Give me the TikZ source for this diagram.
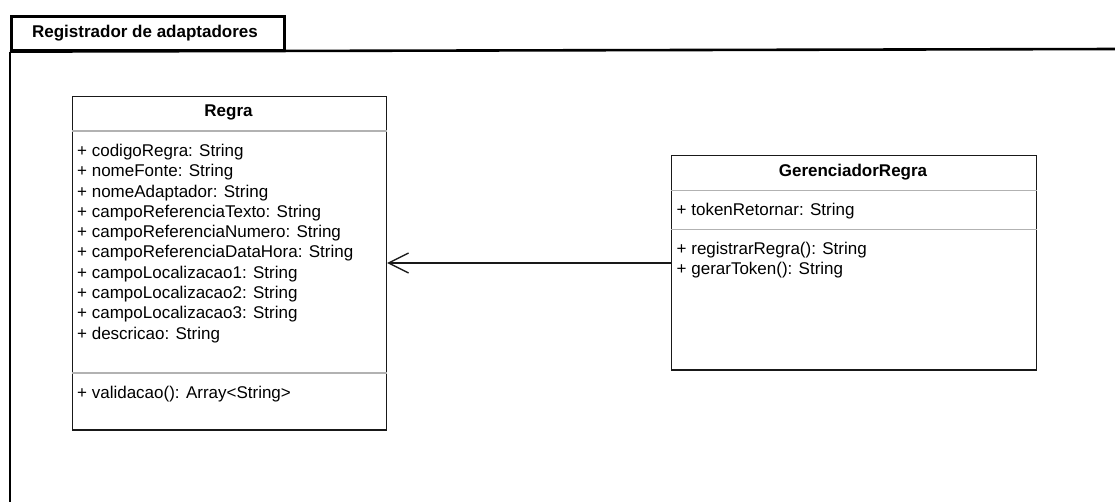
\documentclass[tikz,border=0pt]{standalone}
\usepackage{fontspec}
\setmainfont{Liberation Sans}
\usetikzlibrary{arrows.meta}
\begin{document}
\begin{tikzpicture}[x=1pt,y=-1pt,
  every node/.style={font=\fontsize{17}{20}\selectfont, inner sep=0pt},
  member/.style={anchor=base west, text=black},
  heading/.style={anchor=base, font=\fontsize{17}{20}\selectfont\bfseries},
  classbox/.style={draw=black!90, line width=1.5pt, anchor=north west},
  divider/.style={draw=black!30, line width=1.5pt},
  frame/.style={draw=black, line width=2.6pt},
  assoc/.style={draw=black!90, line width=1.4pt, -{Straight Barb[length=20pt,width=20pt]}},
]
\useasboundingbox (0,0) rectangle (1115,502);

% package frame with its name tab
\node[frame, anchor=north west, minimum width=273pt, minimum height=34pt] (tab) at (10,15) {};
\node[heading] (pkgname) at (145,38) {Registrador de adaptadores};
\draw[frame] (tab.south west) -- (10,510);
\draw[frame] (tab.south west) -- (1120,49);

% class Regra
\node[classbox, minimum width=314pt, minimum height=333pt] (regra) at (71.5,96) {};
\node[heading] (regraname) at (228.5,117) {Regra};
\draw[divider] (regra.west |- 0,131) -- (regra.east |- 0,131);
\draw[divider] (regra.west |- 0,373) -- (regra.east |- 0,373);
\node[member] (r1) at (77,156.5) {+ codigoRegra: String};
\node[member] (r2) at (77,176.8) {+ nomeFonte: String};
\node[member] (r3) at (77,197.1) {+ nomeAdaptador: String};
\node[member] (r4) at (77,217.4) {+ campoReferenciaTexto: String};
\node[member] (r5) at (77,237.7) {+ campoReferenciaNumero: String};
\node[member] (r6) at (77,258.0) {+ campoReferenciaDataHora: String};
\node[member] (r7) at (77,278.3) {+ campoLocalizacao1: String};
\node[member] (r8) at (77,298.6) {+ campoLocalizacao2: String};
\node[member] (r9) at (77,318.9) {+ campoLocalizacao3: String};
\node[member] (r10) at (77,339.2) {+ descricao: String};
\node[member] (rm1) at (77,398) {+ validacao(): Array<String>};

% class GerenciadorRegra
\node[classbox, minimum width=365pt, minimum height=214pt] (ger) at (670.5,155) {};
\node[heading] (gername) at (853,177) {GerenciadorRegra};
\draw[divider] (ger.west |- 0,190.5) -- (ger.east |- 0,190.5);
\draw[divider] (ger.west |- 0,229.5) -- (ger.east |- 0,229.5);
\node[member] (g1) at (676.5,216) {+ tokenRetornar: String};
\node[member] (gm1) at (676.5,254.5) {+ registrarRegra(): String};
\node[member] (gm2) at (676.5,274.8) {+ gerarToken(): String};

% association
\coordinate (link) at (ger.west |- 0,263);
\draw[assoc] (link) -- (regra.east |- link);
\end{tikzpicture}
\end{document}
